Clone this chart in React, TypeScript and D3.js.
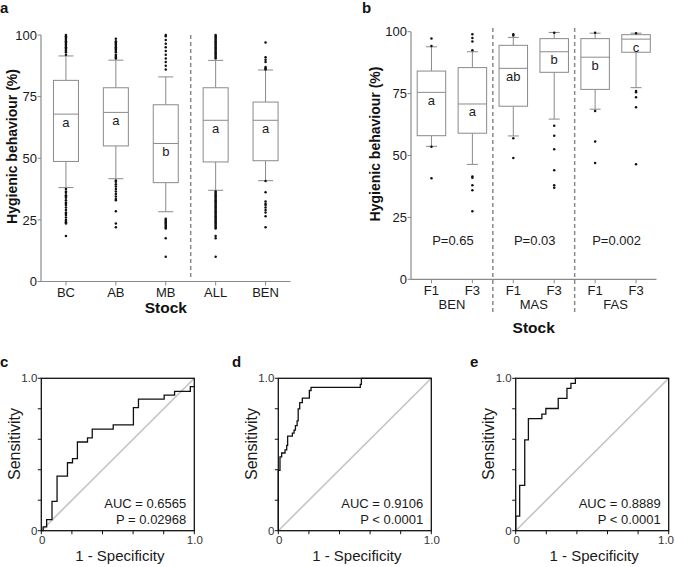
import React from "react";
import * as d3 from "d3";

// ---------- Panel a data ----------
const catsA = ["BC", "AB", "MB", "ALL", "BEN"];
const lowA = [38.1, 41.7, 28.3, 37, 40.9];
const q1A = [48.7, 55, 40.1, 48.5, 49];
const medA = [67.9, 68.6, 56, 65.4, 65.4];
const q3A = [81.6, 78.6, 71.7, 78.6, 72.8];
const highA = [91.5, 89.8, 83, 89.7, 85.8];
const lettersA = ["a", "a", "b", "a", "a"];
const outliersA = [
  [92, 93, 93.5, 94, 94.5, 95, 95.5, 96, 96.5, 97, 97.5, 98, 98.5, 99, 99.5, 100,
    37.5, 36.5, 36, 35, 34.5, 34, 33, 32, 31.5, 31, 30, 29, 28, 27.5, 27, 26, 25, 24.5, 24, 23.5, 18.5],
  [90.5, 91, 91.5, 92, 93, 93.5, 94, 94.5, 95, 95.5, 96, 96.5, 97, 97.5, 98.5,
    41, 40.5, 39.5, 38.5, 37.5, 36.5, 35.5, 34.5, 33.5, 33, 28.5, 23.5, 22],
  [86, 87.5, 89, 90.5, 92, 93.5, 95, 96.5, 98, 99.5, 100,
    25.5, 25, 24.5, 24, 23.5, 23, 22.5, 22, 21.5, 17.5, 10],
  [90.5, 91, 91.5, 92, 92.5, 93, 93.5, 94, 94.5, 95, 95.5, 96, 96.5, 97, 97.5, 98, 98.5, 99, 99.5, 100,
    36.5, 36, 35.5, 35, 34.5, 34, 33.5, 33, 32.5, 32, 31.5, 31, 30.5, 30, 29.5, 29, 28.5, 28, 27.5, 27,
    26.5, 26, 25.5, 25, 24.5, 24, 23.5, 23, 22.5, 22, 21.5, 18.5, 17.5, 10],
  [86, 86.5, 87, 89, 90, 91, 97, 40.8, 36.2, 32.5, 31.5, 31, 30, 29, 28, 26.5, 22],
];
const yTicksAB = [0, 25, 50, 75, 100];

// ---------- Panel b data ----------
const catsB = ["BEN-F1", "BEN-F3", "MAS-F1", "MAS-F3", "FAS-F1", "FAS-F3"];
const genB = ["F1", "F3", "F1", "F3", "F1", "F3"];
const groupsB = ["BEN", "MAS", "FAS"];
const pValsB = ["P=0.65", "P=0.03", "P=0.002"];
const lowB = [53.7, 46.4, 57.9, 64.7, 68.7, 77.4];
const q1B = [58, 59, 69.9, 83.6, 76.7, 91.7];
const medB = [75.5, 70.8, 85.2, 91.9, 89.7, 97];
const q3B = [84.1, 85.5, 94.5, 97.2, 97.2, 98.8];
const highB = [93.9, 91.9, 97.7, 99.7, 99.4, 99.4];
const lettersB = ["a", "a", "ab", "b", "b", "c"];
const outliersB = [
  [97.3, 94.2, 53.5, 40.8],
  [99, 97.5, 96, 92.5, 41.5, 41, 38, 36, 27.5],
  [99, 98.5, 57, 49],
  [99.6, 62, 58, 52.5, 44, 38, 37],
  [99.6, 68, 55.7, 47],
  [99.4, 76, 75.5, 73.5, 69.5, 46.5],
];

// ---------- ROC data (step vertices: fpr, tpr) ----------
const rocCx = [0, 0.012, 0.035, 0.07, 0.103, 0.171, 0.204, 0.236, 0.302, 0.333, 0.47, 0.602, 0.635, 0.803, 0.871, 0.974, 1];
const rocCy = [0, 0.025, 0.073, 0.193, 0.358, 0.446, 0.473, 0.582, 0.609, 0.666, 0.695, 0.807, 0.864, 0.89, 0.914, 0.945, 0.945];
const rocDx = [0, 0, 0.011, 0.022, 0.044, 0.055, 0.061, 0.092, 0.103, 0.112, 0.123, 0.13, 0.14, 0.157, 0.203, 0.214, 0.536, 0.543, 1];
const rocDy = [0, 0.396, 0.484, 0.51, 0.53, 0.56, 0.62, 0.64, 0.66, 0.69, 0.72, 0.8, 0.84, 0.87, 0.92, 0.94, 0.96, 1, 1];
const rocEx = [0, 0, 0.026, 0.059, 0.083, 0.171, 0.197, 0.278, 0.335, 0.361, 0.39, 1];
const rocEy = [0, 0.095, 0.297, 0.596, 0.736, 0.765, 0.802, 0.868, 0.934, 0.967, 1, 1];
const rocLabels = ["c", "d", "e"];
const aucTexts = ["AUC = 0.6565", "AUC = 0.9106", "AUC = 0.8889"];
const pTexts = ["P = 0.02968", "P < 0.0001", "P < 0.0001"];
const rocTicks = [0, 0.2, 0.4, 0.6, 0.8, 1];

const FONT = "'Liberation Sans', Arial, Helvetica, sans-serif";
const AXIS = "#8a8a8a";
const TXT = "#1a1a1a";

function BoxPlot({ x, y, cats, low, q1, med, q3, high, letters, outliers, boxW, capW }: any) {
  return (
    <g>
      {cats.map((c: string, i: number) => {
        const cx = (x(c) as number) + x.bandwidth() / 2;
        return (
          <g key={c}>
            <line x1={cx} x2={cx} y1={y(high[i])} y2={y(q3[i])} stroke={AXIS} strokeWidth={1} />
            <line x1={cx} x2={cx} y1={y(q1[i])} y2={y(low[i])} stroke={AXIS} strokeWidth={1} />
            <line x1={cx - capW / 2} x2={cx + capW / 2} y1={y(high[i])} y2={y(high[i])} stroke={AXIS} strokeWidth={1} />
            <line x1={cx - capW / 2} x2={cx + capW / 2} y1={y(low[i])} y2={y(low[i])} stroke={AXIS} strokeWidth={1} />
            <rect x={cx - boxW / 2} y={y(q3[i])} width={boxW} height={y(q1[i]) - y(q3[i])} fill="white" stroke={AXIS} strokeWidth={1} />
            <line x1={cx - boxW / 2} x2={cx + boxW / 2} y1={y(med[i])} y2={y(med[i])} stroke={AXIS} strokeWidth={1} />
            <text x={cx} y={y(med[i]) + 12.5} textAnchor="middle" fontSize={13} fill={TXT}>{letters[i]}</text>
            {outliers[i].map((v: number, j: number) => (
              <circle key={j} cx={cx} cy={y(v)} r={1.25} fill="#111" />
            ))}
          </g>
        );
      })}
    </g>
  );
}

function LeftAxis({ y, x0, ticks }: any) {
  const [r0, r1] = y.range();
  return (
    <g>
      <line x1={x0} x2={x0} y1={r0} y2={r1} stroke={AXIS} strokeWidth={1.2} />
      {ticks.map((t: number) => (
        <g key={t}>
          <line x1={x0 - 3.5} x2={x0} y1={y(t)} y2={y(t)} stroke={AXIS} strokeWidth={1} />
          <text x={x0 - 4} y={y(t)} dy="0.36em" textAnchor="end" fontSize={13} fill={TXT}>{t}</text>
        </g>
      ))}
    </g>
  );
}

function Roc({ x0, xs, ys, idx }: any) {
  const w = 153;
  const top = 378.3;
  const bottom = 530.7;
  const sx = d3.scaleLinear().domain([0, 1]).range([x0, x0 + w]);
  const sy = d3.scaleLinear().domain([0, 1]).range([bottom, top]);
  const pts: [number, number][] = xs.map((v: number, i: number) => [v, ys[i]]);
  const line = d3.line<[number, number]>().x((d) => sx(d[0])).y((d) => sy(d[1])).curve(d3.curveStepAfter);
  const endLabelX = Math.min(sx(1) + 8.5, 674);
  return (
    <g>
      <line x1={sx(0)} y1={sy(0)} x2={sx(1)} y2={sy(1)} stroke="#c4c4c4" strokeWidth={1.6} />
      <path d={line(pts) || ""} fill="none" stroke="#111" strokeWidth={1.3} />
      <rect x={sx(0)} y={sy(1)} width={w} height={bottom - top} fill="none" stroke="#111" strokeWidth={1.3} />
      {rocTicks.map((t) => (
        <g key={t}>
          <line x1={sx(0) - 3.5} x2={sx(0)} y1={sy(t)} y2={sy(t)} stroke="#111" strokeWidth={1} />
          <line x1={sx(t)} x2={sx(t)} y1={bottom} y2={bottom + 3.5} stroke="#111" strokeWidth={1} />
        </g>
      ))}
      <text x={sx(0) - 4} y={sy(1)} dy="0.36em" textAnchor="end" fontSize={11.5} fill="#333">1.0</text>
      <text x={sx(0) - 4} y={sy(0)} dy="0.36em" textAnchor="end" fontSize={11.5} fill="#333">0</text>
      <text x={sx(0) + 1} y={543.5} textAnchor="middle" fontSize={11.5} fill="#333">0</text>
      <text x={endLabelX} y={543.5} textAnchor="end" fontSize={11.5} fill="#333">1.0</text>
      <text x={sx(1) - 8} y={508} textAnchor="end" fontSize={13} fill={TXT}>{aucTexts[idx]}</text>
      <text x={sx(1) - 8} y={523.5} textAnchor="end" fontSize={13} fill={TXT}>{pTexts[idx]}</text>
      <text transform={`translate(${x0 - 21.5},444) rotate(-90)`} textAnchor="middle" fontSize={16} fill={TXT}>Sensitivity</text>
      <text x={x0 + w / 2 + 2} y={561} textAnchor="middle" fontSize={15} fill={TXT}>1 - Specificity</text>
    </g>
  );
}

export default function App() {
  // panel a scales
  const yA = d3.scaleLinear().domain([0, 100]).range([281.5, 35]);
  const xA = d3.scaleBand<string>().domain(catsA).range([41, 290.5]).padding(0);
  // panel b scales
  const yB = d3.scaleLinear().domain([0, 100]).range([279.3, 31.7]);
  const xB = d3.scaleBand<string>().domain(catsB).range([411, 656.5]).padding(0);
  const bw = xB.bandwidth();

  return (
    <svg width={675} height={567} style={{ position: "absolute", left: 0, top: 0, background: "white" }} fontFamily={FONT}>
      <rect width={675} height={567} fill="white" />

      {/* Panel a */}
      <text x={0} y={13} fontSize={15} fontWeight="bold" fill="#111">a</text>
      <line x1={xA("ALL") as number} x2={xA("ALL") as number} y1={35} y2={280} stroke={AXIS} strokeWidth={1.5} strokeDasharray="4,3" />
      <BoxPlot x={xA} y={yA} cats={catsA} low={lowA} q1={q1A} med={medA} q3={q3A} high={highA}
        letters={lettersA} outliers={outliersA} boxW={25} capW={15} />
      <LeftAxis y={yA} x0={41} ticks={yTicksAB} />
      <line x1={41} x2={290.5} y1={281.5} y2={281.5} stroke={AXIS} strokeWidth={1.2} />
      {catsA.map((c) => {
        const cx = (xA(c) as number) + xA.bandwidth() / 2;
        return (
          <g key={c}>
            <line x1={cx} x2={cx} y1={281.5} y2={285.5} stroke={AXIS} strokeWidth={1} />
            <text x={cx} y={297} textAnchor="middle" fontSize={13} fill={TXT}>{c}</text>
          </g>
        );
      })}
      <text x={165.8} y={313} textAnchor="middle" fontSize={15.5} fontWeight="bold" fill="#111">Stock</text>
      <text transform="translate(16.5,146.5) rotate(-90)" textAnchor="middle" fontSize={14} fontWeight="bold" fill="#111">Hygienic behaviour (%)</text>

      {/* Panel b */}
      <text x={362} y={13} fontSize={15} fontWeight="bold" fill="#111">b</text>
      {[2, 4].map((k) => (
        <line key={k} x1={xB(catsB[k]) as number} x2={xB(catsB[k]) as number} y1={28} y2={315} stroke={AXIS} strokeWidth={1.5} strokeDasharray="4,3" />
      ))}
      <BoxPlot x={xB} y={yB} cats={catsB} low={lowB} q1={q1B} med={medB} q3={q3B} high={highB}
        letters={lettersB} outliers={outliersB} boxW={28.5} capW={11} />
      <LeftAxis y={yB} x0={411} ticks={yTicksAB} />
      <line x1={411} x2={656.5} y1={279.3} y2={279.3} stroke={AXIS} strokeWidth={1.2} />
      {catsB.map((c, i) => {
        const cx = (xB(c) as number) + bw / 2;
        return (
          <g key={c}>
            <line x1={cx} x2={cx} y1={279.3} y2={283.3} stroke={AXIS} strokeWidth={1} />
            <text x={cx} y={295} textAnchor="middle" fontSize={13} fill={TXT}>{genB[i]}</text>
          </g>
        );
      })}
      {groupsB.map((g, k) => {
        const gx = (xB(catsB[2 * k]) as number) + bw;
        return (
          <g key={g}>
            <text x={gx} y={308.5} textAnchor="middle" fontSize={13} fill={TXT}>{g}</text>
            <text x={gx + 1} y={245} textAnchor="middle" fontSize={13} fill={TXT}>{pValsB[k]}</text>
          </g>
        );
      })}
      <text x={533.7} y={333} textAnchor="middle" fontSize={15.5} fontWeight="bold" fill="#111">Stock</text>
      <text transform="translate(380,144) rotate(-90)" textAnchor="middle" fontSize={14} fontWeight="bold" fill="#111">Hygienic behaviour (%)</text>

      {/* ROC panels */}
      <text x={0} y={367} fontSize={15} fontWeight="bold" fill="#111">{rocLabels[0]}</text>
      <text x={232} y={367} fontSize={15} fontWeight="bold" fill="#111">{rocLabels[1]}</text>
      <text x={470} y={367} fontSize={15} fontWeight="bold" fill="#111">{rocLabels[2]}</text>
      <Roc x0={41.3} xs={rocCx} ys={rocCy} idx={0} />
      <Roc x0={278.3} xs={rocDx} ys={rocDy} idx={1} />
      <Roc x0={515.7} xs={rocEx} ys={rocEy} idx={2} />
    </svg>
  );
}
